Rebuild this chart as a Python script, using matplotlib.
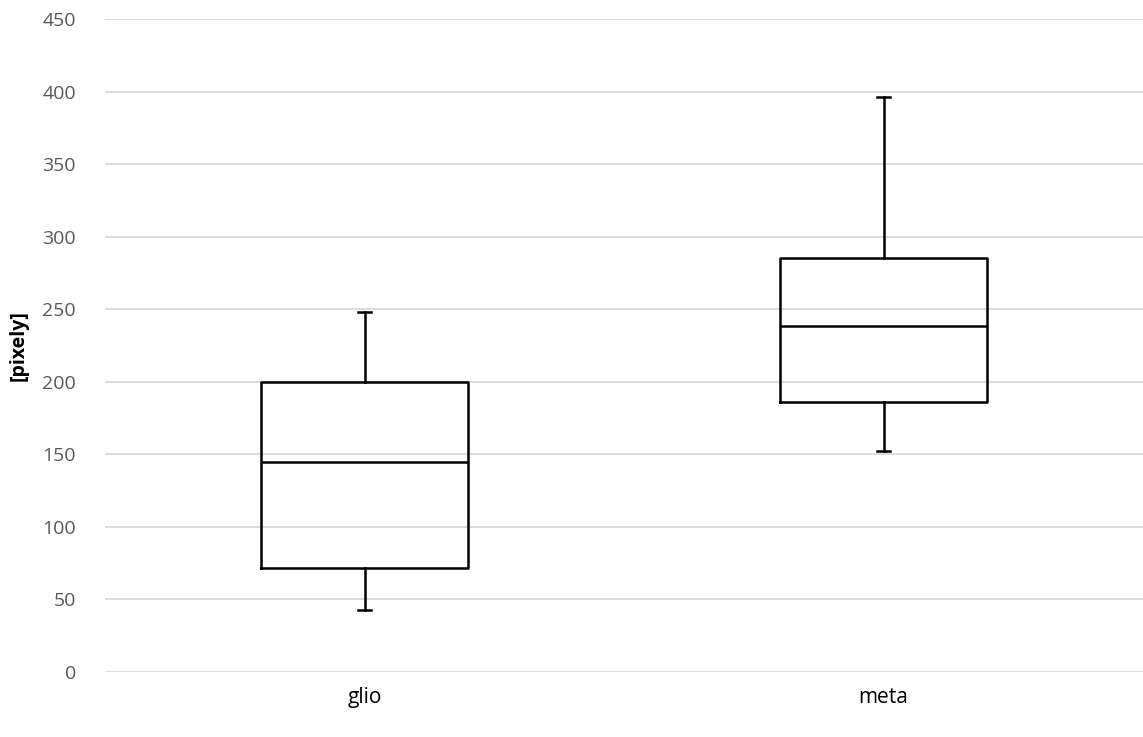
import matplotlib
matplotlib.use("Agg")
import matplotlib.pyplot as plt

# Summary statistics per group (pixels)
categories = ["glio", "meta"]
whisker_low = [43, 152]
q1 = [72, 186]
median = [145, 238.5]
q3 = [200, 285]
whisker_high = [248, 396]
y_ticks = [0, 50, 100, 150, 200, 250, 300, 350, 400, 450]

fig = plt.figure(figsize=(11.43, 7.37), dpi=100)
ax = fig.add_axes([0.0919, 0.0882, 0.9081, 0.886])

stats = [
    dict(label=c, whislo=lo, q1=a, med=m, q3=b, whishi=hi, fliers=[])
    for c, lo, a, m, b, hi in zip(categories, whisker_low, q1, median, q3, whisker_high)
]
line_kw = dict(color="black", linewidth=1.8)
ax.bxp(stats, positions=[1, 2], widths=0.4, showfliers=False,
       boxprops=line_kw, medianprops=line_kw, whiskerprops=line_kw,
       capprops=line_kw, capwidths=0.025, zorder=3)

ax.set_xlim(0.5, 2.5)
ax.set_ylim(0, 450)
ax.set_yticks(y_ticks)
ax.yaxis.grid(True, color="#d9d9d9", linewidth=1.3, zorder=0)
ax.set_axisbelow(True)
for s in ax.spines.values():
    s.set_visible(False)
ax.tick_params(axis="y", length=0, pad=21, labelsize=14, labelcolor="#595959")
ax.tick_params(axis="x", length=0, pad=11, labelsize=15, labelcolor="black")
for lbl in ax.get_yticklabels():
    lbl.set_fontfamily("Open Sans")
for lbl in ax.get_xticklabels():
    lbl.set_fontfamily("Open Sans")
ax.set_ylabel("[pixely]", fontsize=14, fontweight="bold", family="Open Sans", labelpad=10)

fig.savefig("out.png", dpi=100)
